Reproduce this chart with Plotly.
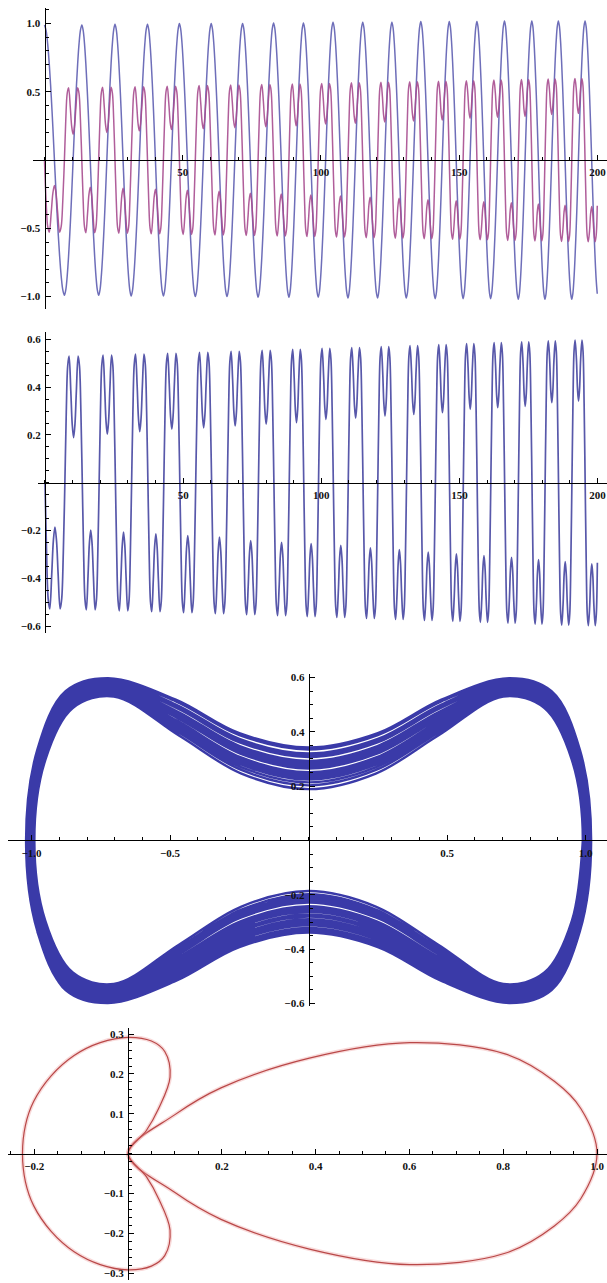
import math
import plotly.graph_objects as go

# ---- oscillation data (t from 0 to 200) ----
# times of successive extrema of x(t); x starts at a maximum, then alternates
ext_t = [0.0, 7.2, 13.5, 19.6, 25.5, 31.35, 37.25, 43.0, 48.8, 54.55, 60.3, 66.0,
         71.65, 77.25, 82.85, 88.4, 93.65, 99.0, 104.35, 109.75, 115.1, 120.45,
         125.65, 130.85, 136.1, 141.3, 146.4, 151.4, 156.4, 161.35, 166.35, 171.35,
         176.25, 181.0, 185.85, 190.7, 195.5, 200.3]
# |x| at each extremum
amp_x = [0.99, 0.99, 0.99, 0.99, 0.995, 0.995, 0.995, 0.995, 1.0, 1.0, 1.0, 1.0,
         1.0, 1.005, 1.005, 1.005, 1.005, 1.005, 1.01, 1.01, 1.01, 1.01, 1.01, 1.01,
         1.015, 1.015, 1.015, 1.015, 1.015, 1.015, 1.02, 1.02, 1.02, 1.02, 1.02,
         1.02, 1.02, 1.02]
# |y| at the two humps of each half swing
peak_y = [0.528, 0.53, 0.532, 0.534, 0.536, 0.538, 0.54, 0.542, 0.544, 0.546,
          0.548, 0.55, 0.552, 0.554, 0.556, 0.558, 0.56, 0.562, 0.564, 0.566,
          0.568, 0.57, 0.572, 0.574, 0.576, 0.578, 0.58, 0.582, 0.584, 0.586,
          0.588, 0.59, 0.592, 0.594, 0.596, 0.597, 0.598]
# |y| at the dip between the humps (where x crosses zero)
dip_y = [0.186, 0.189, 0.198, 0.203, 0.207, 0.214, 0.214, 0.224, 0.221, 0.23,
         0.228, 0.238, 0.242, 0.245, 0.249, 0.251, 0.255, 0.265, 0.262, 0.27,
         0.272, 0.279, 0.28, 0.286, 0.29, 0.293, 0.298, 0.307, 0.305, 0.314,
         0.312, 0.32, 0.322, 0.335, 0.33, 0.342, 0.339]

# shape of one half swing (fraction of the half swing)
frac = [0, 0.08, 0.16, 0.24, 0.34, 0.42, 0.5, 0.58, 0.66, 0.76, 0.84, 0.92]
x_shape = [1, 0.96, 0.86, 0.71, 0.47, 0.245, 0, -0.245, -0.47, -0.71, -0.86, -0.96]
hump_w = [0, 0.56, 0.92, 1, 0.49, 0.14, 0, 0.14, 0.49, 1, 0.92, 0.56]
dip_w = [0, 0, 0, 0, 0.66, 0.91, 1, 0.91, 0.66, 0, 0, 0]

# ---- polar curve (upper half, mirrored below the axis) ----
lobe_theta = [0, 6.7, 11.3, 17.3, 24.9, 31.8, 39.8, 44.4, 50]
lobe_r = [1.0, 0.972, 0.927, 0.842, 0.662, 0.455, 0.258, 0.139, 0.0]
back_theta = [50, 56, 60, 65, 73, 80, 90, 102, 115, 130, 147, 162, 180]
back_r = [0.0, 0.07, 0.13, 0.212, 0.268, 0.287, 0.292, 0.285, 0.272, 0.255,
          0.24, 0.23, 0.225]

# ---- build x(t), y(t) ----
T, X, Y = [], [], []
for k in range(len(ext_t) - 1):
    t0, t1 = ext_t[k], ext_t[k + 1]
    sx = 1 if k % 2 == 0 else -1
    sy = -sx
    for f, xs, hw, dw in zip(frac, x_shape, hump_w, dip_w):
        t = t0 + f * (t1 - t0)
        if t > 200:
            continue
        a = amp_x[k] + f * (amp_x[k + 1] - amp_x[k])
        T.append(t)
        X.append(sx * xs * a)
        Y.append(sy * (hw * peak_y[k] + dw * dip_y[k]))


def polar_xy(th, r):
    return ([ri * math.cos(math.radians(t)) for t, ri in zip(th, r)],
            [ri * math.sin(math.radians(t)) for t, ri in zip(th, r)])


lx_u, ly_u = polar_xy(lobe_theta, lobe_r)
lobe_x = lx_u[::-1][:-1] + lx_u
lobe_y = [-v for v in ly_u[::-1]][:-1] + ly_u
bx_u, by_u = polar_xy(back_theta, back_r)
back_x = bx_u + bx_u[::-1][1:]
back_y = by_u + [-v for v in by_u[::-1]][1:]

BLUE1 = "#6767b6"
PURPLE = "#a84d90"
BLUE2 = "#5858aa"
BAND = "#3a3aa8"
RED = "#b94848"

fig = go.Figure()
fig.add_trace(go.Scatter(x=T, y=X, mode="lines", line=dict(color=BLUE1, width=1.5, shape="spline"),
                         xaxis="x", yaxis="y", opacity=0.95))
fig.add_trace(go.Scatter(x=T, y=Y, mode="lines", line=dict(color=PURPLE, width=1.5, shape="spline"),
                         xaxis="x", yaxis="y", opacity=0.9))
fig.add_trace(go.Scatter(x=T, y=Y, mode="lines", line=dict(color=BLUE2, width=1.7, shape="spline"),
                         xaxis="x2", yaxis="y2"))
fig.add_trace(go.Scatter(x=X, y=Y, mode="lines", line=dict(color=BAND, width=2.4, shape="spline"),
                         xaxis="x3", yaxis="y3"))
for cx, cy in ((lobe_x, lobe_y), (back_x, back_y)):
    fig.add_trace(go.Scatter(x=cx, y=cy, mode="lines",
                             line=dict(color="rgba(235,150,150,0.35)", width=4, shape="spline"),
                             xaxis="x4", yaxis="y4"))
    fig.add_trace(go.Scatter(x=cx, y=cy, mode="lines", line=dict(color=RED, width=1.2, shape="spline"),
                             xaxis="x4", yaxis="y4"))

W, H = 607, 1283
FONT = dict(family="Liberation Serif", size=11, color="#111111", weight="bold")


def px(v):
    return v / W


def py(v):
    return 1 - v / H


def fmt(v):
    s = ("%g" % v) if abs(v) >= 10 else ("%.1f" % v)
    return s.replace("-", "\u2212")


def axis(rng, dom, pos, vals, minor_dt, major_len=5):
    return dict(range=rng, domain=dom, anchor="free", position=pos,
                showline=True, linecolor="black", linewidth=1,
                showgrid=False, zeroline=False,
                tickmode="array", tickvals=vals, ticktext=[fmt(v) for v in vals],
                ticks="inside", ticklen=major_len, tickwidth=1, tickcolor="black",
                minor=dict(tickmode="linear", tick0=0, dtick=minor_dt, ticks="inside",
                           ticklen=3, tickwidth=1, tickcolor="black"),
                tickfont=FONT, ticklabelstandoff=2, fixedrange=True)


tvals = [50, 100, 150, 200]
layout = dict(
    width=W, height=H, margin=dict(l=0, r=0, t=0, b=0),
    paper_bgcolor="white", plot_bgcolor="white", showlegend=False,
    # plot 1
    xaxis=axis([-4.3, 203.44], [px(32.6), 1.0], py(157.85), tvals, 10),
    yaxis=axis([-1.0875, 1.1145], [py(307), py(5)], px(44.5), [-1.0, -0.5, 0.5, 1.0], 0.1),
    # plot 2
    xaxis2=axis([-2.53, 203.4], [px(38), 1.0], py(482), tvals, 10),
    yaxis2=axis([-0.629, 0.629], [py(633), py(331)], px(45), [-0.6, -0.4, -0.2, 0.2, 0.4, 0.6], 0.05),
    # plot 3
    xaxis3=axis([-1.0852, 1.0773], [px(8), 1.0], py(841.4), [-1.0, -0.5, 0.5, 1.0], 0.1),
    yaxis3=axis([-0.61, 0.6132], [py(1008), py(674)], px(308.6), [-0.6, -0.4, -0.2, 0.2, 0.4, 0.6], 0.05),
    # plot 4
    xaxis4=axis([-0.2559, 1.0213], [px(8), 1.0], py(1156), [-0.2, 0.2, 0.4, 0.6, 0.8, 1.0], 0.05),
    yaxis4=axis([-0.3175, 0.315], [0.0, py(1030)], px(128), [-0.3, -0.2, -0.1, 0.1, 0.2, 0.3], 0.02),
)
for i in ("", "2", "3", "4"):
    layout["xaxis" + i]["side"] = "bottom"
    layout["yaxis" + i]["side"] = "left"
fig.update_layout(**layout)
fig.write_html("out.html")
